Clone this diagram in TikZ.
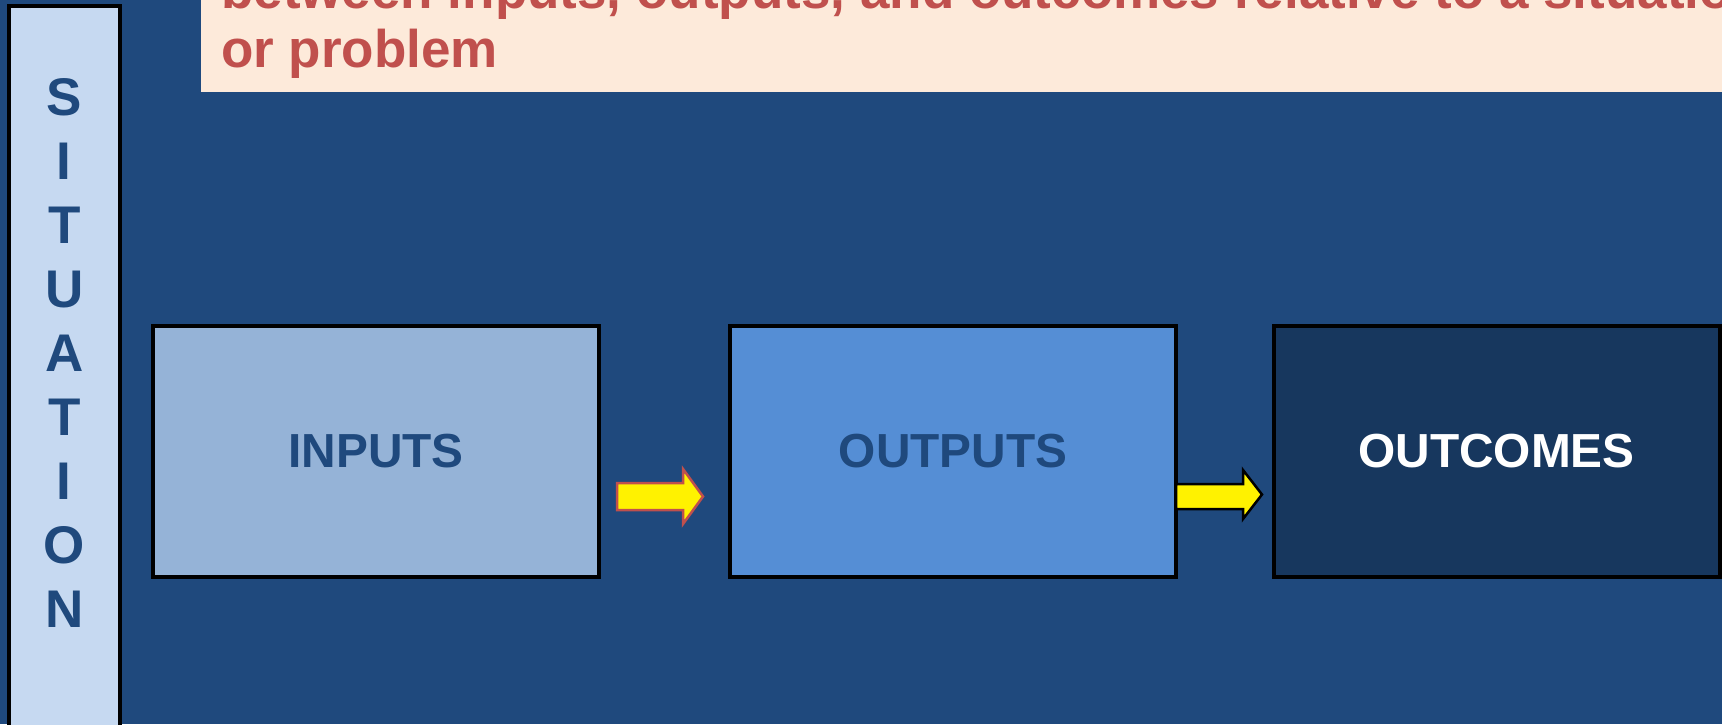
\documentclass[tikz,border=0pt]{standalone}
\usepackage{fontspec}
\setmainfont{Liberation Sans}
\usetikzlibrary{calc}
\definecolor{bgblue}{HTML}{1F497D}
\definecolor{peach}{HTML}{FDEADA}
\definecolor{titlered}{HTML}{C0504D}
\definecolor{sitfill}{HTML}{C6D9F1}
\definecolor{inputsfill}{HTML}{95B3D7}
\definecolor{outputsfill}{HTML}{558ED5}
\definecolor{outcomesfill}{HTML}{17375E}
\begin{document}
\begin{tikzpicture}[x=1pt,y=-1pt,
  box/.style={draw=black,line width=4pt,minimum width=446pt,minimum height=251pt,
    inner sep=0pt,outer sep=0pt,font=\bfseries\fontsize{47.8}{56}\selectfont},
  titletext/.style={anchor=base west,inner sep=0pt,text=titlered,
    font=\bfseries\fontsize{53}{60}\selectfont},
  flowarrow/.style={fill=yellow,line width=2.5pt,line join=miter}]
\useasboundingbox (0,0) rectangle (1722,724);
\begin{scope}
\clip (0,0) rectangle (1722,724);
\fill[bgblue] (0,0) rectangle (1722,724);
% title banner
\fill[peach] (201,-10) rectangle (1740,92);
\node[titletext] (t1) at (221,8) {between inputs, outputs, and outcomes relative to a situation};
\node[titletext] (t2) at (221,67) {or problem};
% situation bar
\node[draw=black,line width=4pt,fill=sitfill,minimum width=110.5pt,minimum height=734pt,
  inner sep=0pt,outer sep=0pt] (sit) at (64.25,373) {};
\node[align=center,inner sep=0pt,text=bgblue,font=\bfseries\fontsize{53}{64.1}\selectfont]
  (sittext) at (64.25,353) {S\\I\\T\\U\\A\\T\\I\\O\\N};
% boxes
\node[box,fill=inputsfill,text=bgblue] (in) at (376,451.5) {INPUTS};
\node[box,fill=outputsfill,text=bgblue] (out) at (953,451.5) {OUTPUTS};
\node[box,fill=outcomesfill,text=white] (oc) at (1496.5,451.5) {OUTCOMES};
% arrows
\draw[flowarrow,draw=titlered] ($(in.east)+(18,31.5)$) -- ($(in.east)+(84,31.5)$)
  -- ($(in.east)+(84,17.5)$) -- ($(in.east)+(104,45)$) -- ($(in.east)+(84,72.5)$)
  -- ($(in.east)+(84,58.5)$) -- ($(in.east)+(18,58.5)$) -- cycle;
\draw[flowarrow,draw=black] ($(out.east)+(0,32.5)$) -- ($(out.east)+(67,32.5)$)
  -- ($(out.east)+(67,18.5)$) -- ($(out.east)+(86,43)$) -- ($(out.east)+(67,67.5)$)
  -- ($(out.east)+(67,57.5)$) -- ($(out.east)+(0,57.5)$) -- cycle;
\end{scope}
\end{tikzpicture}
\end{document}
